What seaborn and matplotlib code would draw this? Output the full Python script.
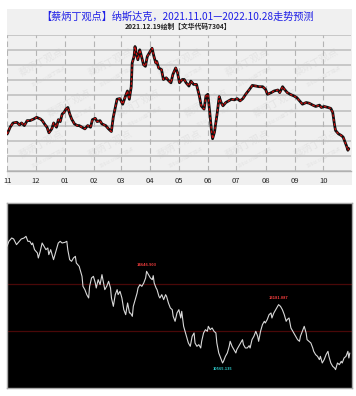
import matplotlib
matplotlib.use("Agg")
import matplotlib.pyplot as plt
import matplotlib.dates as mdates
from matplotlib.patches import Rectangle
import numpy as np
import pandas as pd
import seaborn as sns

sns.set_style("white")
plt.rcParams["font.family"] = ["Noto Sans CJK SC", "DejaVu Sans"]

# ---- forecast (top panel) ----
forecast_dates = [
    "2021-11-01", "2021-11-04", "2021-11-07", "2021-11-11", "2021-11-14", "2021-11-16", "2021-11-19",
    "2021-11-22", "2021-11-25", "2021-11-29",
    "2021-12-02", "2021-12-06", "2021-12-08", "2021-12-11", "2021-12-13", "2021-12-15", "2021-12-18",
    "2021-12-20", "2021-12-23", "2021-12-25", "2021-12-27", "2021-12-29", "2021-12-31",
    "2022-01-02", "2022-01-04", "2022-01-06", "2022-01-08", "2022-01-11", "2022-01-14", "2022-01-16",
    "2022-01-19", "2022-01-22", "2022-01-25", "2022-01-28", "2022-01-30",
    "2022-02-02", "2022-02-04", "2022-02-07", "2022-02-09", "2022-02-13", "2022-02-16", "2022-02-19",
    "2022-02-21", "2022-02-25", "2022-02-28",
    "2022-03-03", "2022-03-06", "2022-03-08", "2022-03-10", "2022-03-12", "2022-03-13", "2022-03-15",
    "2022-03-16", "2022-03-17", "2022-03-19", "2022-03-21", "2022-03-22", "2022-03-25", "2022-03-27",
    "2022-03-29", "2022-03-31",
    "2022-04-01", "2022-04-03", "2022-04-05", "2022-04-07", "2022-04-08", "2022-04-10", "2022-04-13",
    "2022-04-15", "2022-04-18", "2022-04-21", "2022-04-23", "2022-04-25", "2022-04-28", "2022-04-30",
    "2022-05-02", "2022-05-05", "2022-05-07", "2022-05-09", "2022-05-12", "2022-05-14", "2022-05-17",
    "2022-05-20", "2022-05-23", "2022-05-25", "2022-05-28", "2022-05-30",
    "2022-06-01", "2022-06-03", "2022-06-05", "2022-06-06", "2022-06-08", "2022-06-11", "2022-06-13",
    "2022-06-15", "2022-06-17", "2022-06-20", "2022-06-23", "2022-06-26", "2022-06-29",
    "2022-07-02", "2022-07-05", "2022-07-08", "2022-07-11", "2022-07-15", "2022-07-18", "2022-07-22",
    "2022-07-25", "2022-07-29",
    "2022-08-01", "2022-08-03", "2022-08-07", "2022-08-10", "2022-08-14", "2022-08-16", "2022-08-19",
    "2022-08-21", "2022-08-24", "2022-08-27", "2022-08-31",
    "2022-09-03", "2022-09-06", "2022-09-09", "2022-09-13", "2022-09-16", "2022-09-20", "2022-09-23",
    "2022-09-27", "2022-09-29",
    "2022-10-02", "2022-10-06", "2022-10-09", "2022-10-11", "2022-10-13", "2022-10-14", "2022-10-17",
    "2022-10-20", "2022-10-22", "2022-10-24", "2022-10-26", "2022-10-27", "2022-10-28",
]
forecast_values = [
    13231, 13449, 13590, 13612, 13525, 13590, 13503, 13667, 13667, 13721,
    13776, 13721, 13667, 13525, 13449, 13264, 13394, 13590, 13449, 13699, 13634, 13885, 13939,
    14048, 14102, 13885, 13721, 13558, 13503, 13503, 13449, 13394, 13503, 13449, 13699,
    13743, 13634, 13667, 13558, 13503, 13394, 13307, 13776, 14375, 14396,
    14211, 14484, 14647, 14375, 14789, 15573, 15791, 16118, 15954, 15682, 16009, 15900, 15518, 15464,
    15791, 15900,
    15954, 16063, 15791, 15573, 15627, 15410, 15355, 15028, 15083, 14974, 14919, 15192, 15410, 15246,
    14919, 15028, 15028, 14919, 14810, 14974, 14865, 14865, 14484, 14157, 14048, 14484,
    14538, 13939, 13285, 13068, 13285, 13939, 14462, 14266, 14157, 14266, 14320, 14375, 14353,
    14396, 14320, 14396, 14538, 14701, 14832, 14810, 14789, 14789,
    14701, 14538, 14593, 14647, 14680, 14593, 14789, 14701, 14593, 14538, 14484,
    14429, 14320, 14211, 14266, 14244, 14179, 14135, 14179, 14102,
    14135, 14102, 14070, 13939, 13503, 13340, 13231, 13176, 13122, 12959, 12795, 12686, 12741,
]

# ---- actual index (bottom panel) ----
actual_dates = [
    "2021-11-01", "2021-11-03", "2021-11-06", "2021-11-08", "2021-11-11", "2021-11-14", "2021-11-16",
    "2021-11-19", "2021-11-21", "2021-11-23", "2021-11-25", "2021-11-27", "2021-11-28", "2021-11-30",
    "2021-12-03", "2021-12-04", "2021-12-06", "2021-12-08", "2021-12-10", "2021-12-12", "2021-12-14",
    "2021-12-15", "2021-12-17", "2021-12-19", "2021-12-20", "2021-12-22", "2021-12-25", "2021-12-27",
    "2021-12-29",
    "2022-01-01", "2022-01-03", "2022-01-04", "2022-01-06", "2022-01-08", "2022-01-10", "2022-01-12",
    "2022-01-13", "2022-01-16", "2022-01-19", "2022-01-20", "2022-01-22", "2022-01-24", "2022-01-26",
    "2022-01-27", "2022-01-29", "2022-01-31",
    "2022-02-02", "2022-02-03", "2022-02-05", "2022-02-07", "2022-02-09", "2022-02-10", "2022-02-12",
    "2022-02-14", "2022-02-16", "2022-02-18", "2022-02-19", "2022-02-21", "2022-02-23", "2022-02-25",
    "2022-02-26", "2022-02-28",
    "2022-03-02", "2022-03-04", "2022-03-06", "2022-03-08", "2022-03-10", "2022-03-11", "2022-03-13",
    "2022-03-14", "2022-03-16", "2022-03-18", "2022-03-19", "2022-03-21", "2022-03-23", "2022-03-25",
    "2022-03-27", "2022-03-28", "2022-03-30",
    "2022-04-01", "2022-04-03", "2022-04-04", "2022-04-05", "2022-04-07", "2022-04-08", "2022-04-10",
    "2022-04-11", "2022-04-13", "2022-04-15", "2022-04-17", "2022-04-18", "2022-04-20", "2022-04-22",
    "2022-04-24", "2022-04-25", "2022-04-27", "2022-04-29",
    "2022-05-01", "2022-05-03", "2022-05-04", "2022-05-06", "2022-05-08", "2022-05-10", "2022-05-11",
    "2022-05-13", "2022-05-15", "2022-05-17", "2022-05-18", "2022-05-20", "2022-05-22", "2022-05-24",
    "2022-05-25", "2022-05-27", "2022-05-29", "2022-05-31",
    "2022-06-01", "2022-06-03", "2022-06-05", "2022-06-07", "2022-06-09", "2022-06-10", "2022-06-12",
    "2022-06-14", "2022-06-16", "2022-06-17", "2022-06-19", "2022-06-21", "2022-06-23", "2022-06-24",
    "2022-06-26", "2022-06-28", "2022-06-30",
    "2022-07-01", "2022-07-03", "2022-07-05", "2022-07-07", "2022-07-08", "2022-07-10", "2022-07-12",
    "2022-07-14", "2022-07-15", "2022-07-17", "2022-07-19", "2022-07-21", "2022-07-23", "2022-07-24",
    "2022-07-26", "2022-07-28", "2022-07-30", "2022-07-31",
    "2022-08-02", "2022-08-04", "2022-08-06", "2022-08-07", "2022-08-09", "2022-08-11", "2022-08-13",
    "2022-08-14", "2022-08-16", "2022-08-18", "2022-08-20", "2022-08-22", "2022-08-23", "2022-08-25",
    "2022-08-27", "2022-08-29", "2022-08-30",
    "2022-09-01", "2022-09-03", "2022-09-05", "2022-09-06", "2022-09-08", "2022-09-10", "2022-09-12",
    "2022-09-13", "2022-09-15", "2022-09-17", "2022-09-19", "2022-09-20", "2022-09-22", "2022-09-24",
    "2022-09-26", "2022-09-27", "2022-09-29",
    "2022-10-01", "2022-10-03", "2022-10-05", "2022-10-06", "2022-10-08", "2022-10-10", "2022-10-12",
    "2022-10-13", "2022-10-15", "2022-10-17", "2022-10-19", "2022-10-20", "2022-10-22", "2022-10-24",
    "2022-10-26", "2022-10-27", "2022-10-28",
]
actual_values = [
    15710, 15931, 16078, 16033, 15784, 15931, 16033, 16078, 16151, 15931, 15931, 15784, 15857, 15563,
    15416, 15196, 15490, 15857, 15710, 15563, 15637, 15343, 15563, 15269, 15122, 15416, 15857, 15931,
    15857,
    15886, 15931, 15563, 15122, 15049, 15196, 15269, 14975, 14828, 14387, 13946, 13799, 13579, 13432,
    13946, 14314, 14387,
    14093, 13873, 14240, 14020, 14461, 14240, 13799, 13946, 14167, 13873, 13432, 13064, 13579, 13799,
    13579, 13726,
    13432, 12917, 12697, 13211, 12770, 12770, 12623, 13064, 13358, 13652, 13873, 14020, 13946, 14093,
    14314, 14608, 14461,
    14314, 14240, 14416, 14093, 13873, 13799, 13505, 13432, 13579, 13358, 13579, 13505, 13211, 12991,
    12917, 12623, 12403, 12770,
    12917, 12550, 12844, 12182, 11888, 11594, 11447, 11300, 11741, 11888, 11447, 11300, 11374, 11227,
    11521, 11888, 12035, 11962,
    12182, 12035, 12109, 11962, 11888, 11447, 11006, 10786, 10565, 10639, 10859, 11006, 11300, 11521,
    11300, 11153, 11006,
    11153, 11300, 11447, 11594, 11374, 11227, 11227, 11329, 11227, 11594, 11741, 11962, 11741, 11521,
    11962, 12256, 12403, 12329,
    12476, 12697, 12770, 12550, 12770, 12917, 13064, 13138, 13064, 12917, 12697, 12403, 12476, 12550,
    12109, 11962, 11888,
    11741, 11594, 11521, 11741, 11962, 12182, 11888, 11594, 11521, 11447, 11227, 11080, 10933, 10859,
    10712, 10859, 10565,
    10712, 10933, 11080, 10859, 10565, 10418, 10345, 10271, 10565, 10492, 10639, 10565, 10786, 10859,
    11080, 10786, 11006,
]

# marked extremes and level lines on the actual chart
marks_dates = ["2022-03-28", "2022-06-16", "2022-08-14"]
marks_labels = ["14646.903", "10565.135", "13181.087"]
marks_kind = ["high", "low", "high"]
level_lines = [14049, 11962]

title = "【蔡炳丁观点】纳斯达克，2021.11.01—2022.10.28走势预测"
subtitle = "2021.12.19绘制【文华代码7304】"

df_f = pd.DataFrame({"date": pd.to_datetime(forecast_dates), "value": forecast_values})
df_a = pd.DataFrame({"date": pd.to_datetime(actual_dates), "value": actual_values})
x_start, x_end = pd.Timestamp("2021-11-01"), pd.Timestamp("2022-10-30")

fig = plt.figure(figsize=(3.56, 3.96), dpi=100)
fig.patch.set_facecolor("white")

# grey card behind the forecast chart
card = Rectangle((7 / 356, 1 - 185 / 396), 345 / 356, 176 / 396,
                 transform=fig.transFigure, facecolor="#f0f0f0", edgecolor="none", zorder=-5)
fig.patches.append(card)

fig.text(0.5, 1 - 17 / 396, title, ha="center", va="center", fontsize=7.3, color="#1f1fe6")
fig.text(0.5, 1 - 26.5 / 396, subtitle, ha="center", va="center", fontsize=4.9,
         color="#222222", fontweight="bold")

ax1 = fig.add_axes([7.3 / 356, 1 - 171 / 396, 343.4 / 356, 136 / 396])
ax1.set_facecolor("#f0f0f0")

# faint watermark
for i in range(5):
    for j in range(3):
        cx = 0.1 + i * 0.2 + (j % 2) * 0.08
        cy = 0.8 - j * 0.3
        if cx > 0.92:
            continue
        ax1.text(cx, cy, "蔡炳丁观点", transform=ax1.transAxes, fontsize=7, color="#e4e4e4",
                 rotation=28, ha="center", va="center", zorder=0)
        ax1.text(cx + 0.02, cy - 0.1, "19biz.cn蔡丁观点", transform=ax1.transAxes, fontsize=3.5,
                 color="#e4e4e4", rotation=28, ha="center", va="center", zorder=0)

sns.lineplot(data=df_f, x="date", y="value", ax=ax1, color="#111111", lw=2.0, zorder=3)
sns.lineplot(data=df_f, x="date", y="value", ax=ax1, color="#d01010", lw=0.9, zorder=4,
             linestyle=(0, (2, 1.6)))

for v in range(12000, 16501, 500):
    ax1.axhline(v, color="#c4c4c4", lw=1.3, zorder=1)
for m in pd.date_range("2021-11-01", "2022-10-01", freq="MS"):
    ax1.axvline(m, color="#b4b4b4", lw=0.8, ls=(0, (5, 3)), zorder=1)

ax1.set_xlim(x_start, x_end)
ax1.set_ylim(12000, 16500)
ax1.set_xlabel("")
ax1.set_ylabel("")
ax1.set_yticks([])
ax1.xaxis.set_major_locator(mdates.MonthLocator())
ax1.xaxis.set_major_formatter(mdates.DateFormatter("%m"))
ax1.tick_params(axis="x", length=2.5, width=0.6, color="#888888", pad=2, labelsize=5.5)
for lab in ax1.get_xticklabels():
    lab.set_fontstyle("italic")
for s in ["top", "left", "right"]:
    ax1.spines[s].set_visible(False)
ax1.spines["bottom"].set_color("#b0b0b0")
ax1.spines["bottom"].set_linewidth(1.0)

# ---- actual chart ----
ax2 = fig.add_axes([7 / 356, 8 / 396, 344.7 / 356, 185 / 396])
ax2.set_facecolor("black")
for v in level_lines:
    ax2.axhline(v, color="#4a0808", lw=0.9, zorder=1)
sns.lineplot(data=df_a, x="date", y="value", ax=ax2, color="#d8d8d8", lw=0.8, zorder=3)

for d, lab, kind in zip(marks_dates, marks_labels, marks_kind):
    d = pd.Timestamp(d)
    v = df_a.loc[df_a["date"] == d, "value"].iloc[0]
    if kind == "high":
        ax2.annotate(lab, (d, v), xytext=(0, 3), textcoords="offset points", ha="center",
                     va="bottom", fontsize=2.8, color="#ff4040", fontweight="bold")
    else:
        ax2.annotate(lab, (d, v), xytext=(0, -3), textcoords="offset points", ha="center",
                     va="top", fontsize=2.8, color="#30d0d0", fontweight="bold")

ax2.set_xlim(x_start, x_end)
ax2.set_ylim(9462, 17621)
ax2.set_xticks([])
ax2.set_yticks([])
ax2.set_xlabel("")
ax2.set_ylabel("")
for s in ax2.spines.values():
    s.set_color("#a8a8a8")
    s.set_linewidth(1.0)

fig.savefig("out.png", dpi=100, facecolor="white")
